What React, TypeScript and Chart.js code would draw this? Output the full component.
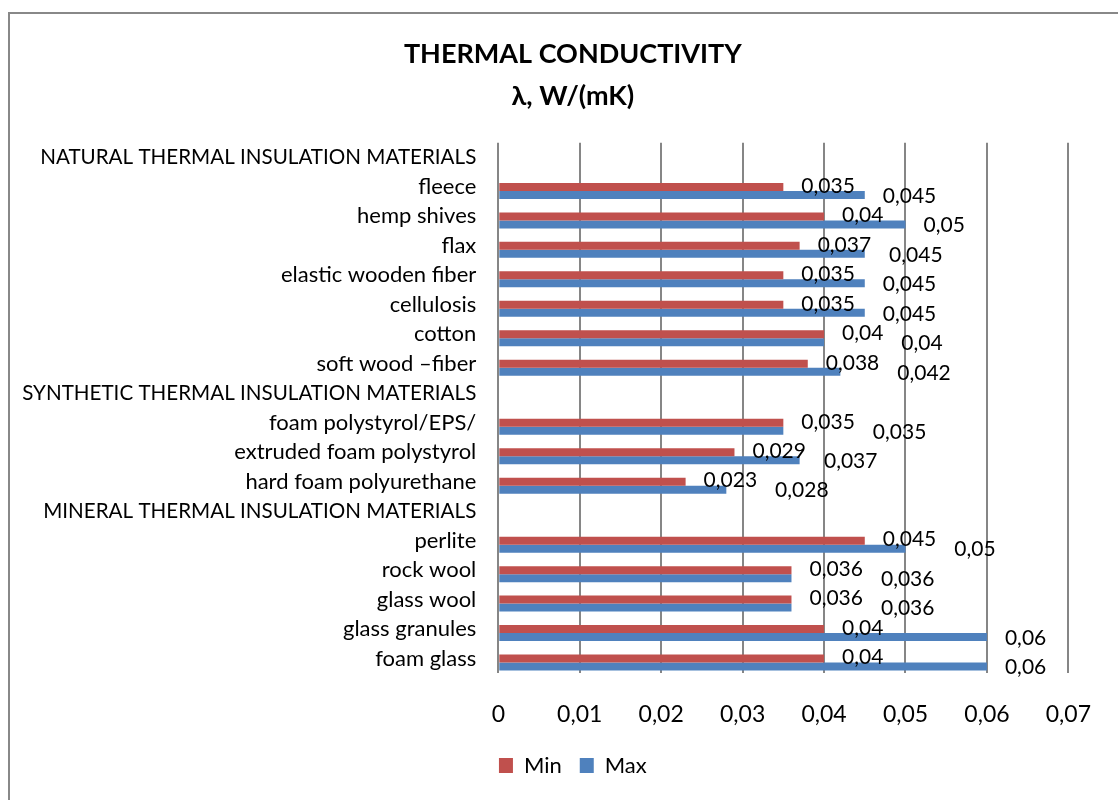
import React, { useEffect, useRef } from "react";
import { Chart, registerables } from "chart.js";

Chart.register(...registerables);

const categories: string[] = [
  "NATURAL THERMAL INSULATION MATERIALS",
  "fleece",
  "hemp shives",
  "flax",
  "elastic wooden fiber",
  "cellulosis",
  "cotton",
  "soft wood –fiber",
  "SYNTHETIC THERMAL INSULATION MATERIALS",
  "foam polystyrol/EPS/",
  "extruded foam polystyrol",
  "hard foam polyurethane",
  "MINERAL THERMAL INSULATION MATERIALS",
  "perlite",
  "rock wool",
  "glass wool",
  "glass granules",
  "foam glass",
];

const minValues: (number | null)[] = [
  null, 0.035, 0.04, 0.037, 0.035, 0.035, 0.04, 0.038,
  null, 0.035, 0.029, 0.023,
  null, 0.045, 0.036, 0.036, 0.04, 0.04,
];

const maxValues: (number | null)[] = [
  null, 0.045, 0.05, 0.045, 0.045, 0.045, 0.04, 0.042,
  null, 0.035, 0.037, 0.028,
  null, 0.05, 0.036, 0.036, 0.06, 0.06,
];

const xTicks: number[] = [0, 0.01, 0.02, 0.03, 0.04, 0.05, 0.06, 0.07];

const titleLines: string[] = ["THERMAL CONDUCTIVITY", "λ, W/(mK)"];

const RED = "#C0504D";
const BLUE = "#4F81BD";
const GRID = "#868686";
const FONT = "Lato";

const fmt = (v: number) => String(Math.round(v * 1000) / 1000).replace(".", ",");

const isHeading = (s: string) => s === s.toUpperCase();

const framePlugin = {
  id: "frame",
  beforeDraw(chart: any) {
    const { ctx, width, height } = chart;
    // let the long category labels extend past the axis box
    if (chart.scales && chart.scales.y) {
      chart.scales.y._computeLabelArea = () => undefined;
    }
    ctx.save();
    ctx.fillStyle = "#ffffff";
    ctx.fillRect(0, 0, width, height);
    ctx.strokeStyle = "#888888";
    ctx.lineWidth = 2;
    ctx.beginPath();
    ctx.moveTo(9, height + 5);
    ctx.lineTo(9, 13);
    ctx.lineTo(width + 5, 13);
    ctx.stroke();
    ctx.restore();
  },
};

const labelPlugin = {
  id: "valueLabels",
  afterDatasetsDraw(chart: any) {
    const { ctx } = chart;
    const minMeta = chart.getDatasetMeta(1);
    const maxMeta = chart.getDatasetMeta(2);
    ctx.save();
    ctx.font = `21px ${FONT}`;
    ctx.fillStyle = "#000000";
    ctx.textAlign = "left";
    ctx.textBaseline = "middle";
    categories.forEach((_, i) => {
      const mn = minValues[i];
      const mx = maxValues[i];
      let minEnd = -Infinity;
      if (mn !== null && minMeta.data[i]) {
        const bar = minMeta.data[i];
        const t = fmt(mn);
        const x = bar.x + 18;
        ctx.fillText(t, x, bar.y - 1);
        minEnd = x + ctx.measureText(t).width;
      }
      if (mx !== null && maxMeta.data[i]) {
        const bar = maxMeta.data[i];
        const t = fmt(mx);
        const x = Math.max(bar.x + 18, minEnd + 18);
        ctx.fillText(t, x, bar.y + 1);
      }
    });
    ctx.restore();
  },
};

export default function App() {
  const canvasRef = useRef<HTMLCanvasElement | null>(null);

  useEffect(() => {
    if (!canvasRef.current) return;
    const chart = new Chart(canvasRef.current, {
      type: "bar",
      data: {
        labels: categories,
        datasets: [
          {
            label: "",
            data: categories.map(() => null),
            backgroundColor: "rgba(0,0,0,0)",
          },
          {
            label: "Min",
            data: minValues,
            backgroundColor: RED,
            borderWidth: 0,
          },
          {
            label: "Max",
            data: maxValues,
            backgroundColor: BLUE,
            borderWidth: 0,
          },
        ],
      },
      options: {
        indexAxis: "y",
        animation: false,
        responsive: true,
        maintainAspectRatio: false,
        datasets: {
          bar: {
            categoryPercentage: 0.814,
            barPercentage: 1,
          },
        },
        layout: {
          padding: { left: 68, right: 40.3, top: 0, bottom: 13.5 },
        },
        scales: {
          x: {
            type: "linear",
            position: "bottom",
            min: 0,
            max: 0.07,
            afterBuildTicks(scale: any) {
              scale.ticks = xTicks.map((v) => ({ value: v }));
            },
            afterFit(scale: any) {
              scale.height = 63.2;
            },
            ticks: {
              callback: (v: any) => fmt(Number(v)),
              font: { family: FONT, size: 23 },
              color: "#000000",
              padding: 27,
            },
            grid: {
              color: GRID,
              lineWidth: 2,
              drawTicks: false,
            },
            border: { display: false },
          },
          y: {
            type: "category",
            afterFit(scale: any) {
              scale.width = 430.3;
            },
            ticks: {
              font: (c: any) => {
                const lbl = categories[c.index] ?? "";
                return { family: FONT, size: isHeading(lbl) ? 20.6 : 22 };
              },
              color: "#000000",
              padding: 22,
              autoSkip: false,
            },
            grid: { display: false, drawTicks: false },
            border: { display: false },
          },
        },
        plugins: {
          title: {
            display: true,
            text: titleLines,
            color: "#000000",
            font: { family: FONT, size: 27, weight: "bold", lineHeight: 42 / 27 },
            padding: { top: 33, bottom: 25.7 },
          },
          legend: {
            display: true,
            position: "bottom",
            labels: {
              boxWidth: 14,
              boxHeight: 15,
              padding: 18,
              color: "#000000",
              font: { family: FONT, size: 22 },
              filter: (item: any) => item.text !== "",
            },
          },
          tooltip: { enabled: false },
        },
      },
      plugins: [framePlugin, labelPlugin],
    });
    return () => chart.destroy();
  }, []);

  return (
    <div
      style={{
        position: "fixed",
        left: 0,
        top: 0,
        width: 1118,
        height: 800,
        overflow: "hidden",
        background: "#ffffff",
      }}
    >
      <canvas ref={canvasRef} />
    </div>
  );
}
